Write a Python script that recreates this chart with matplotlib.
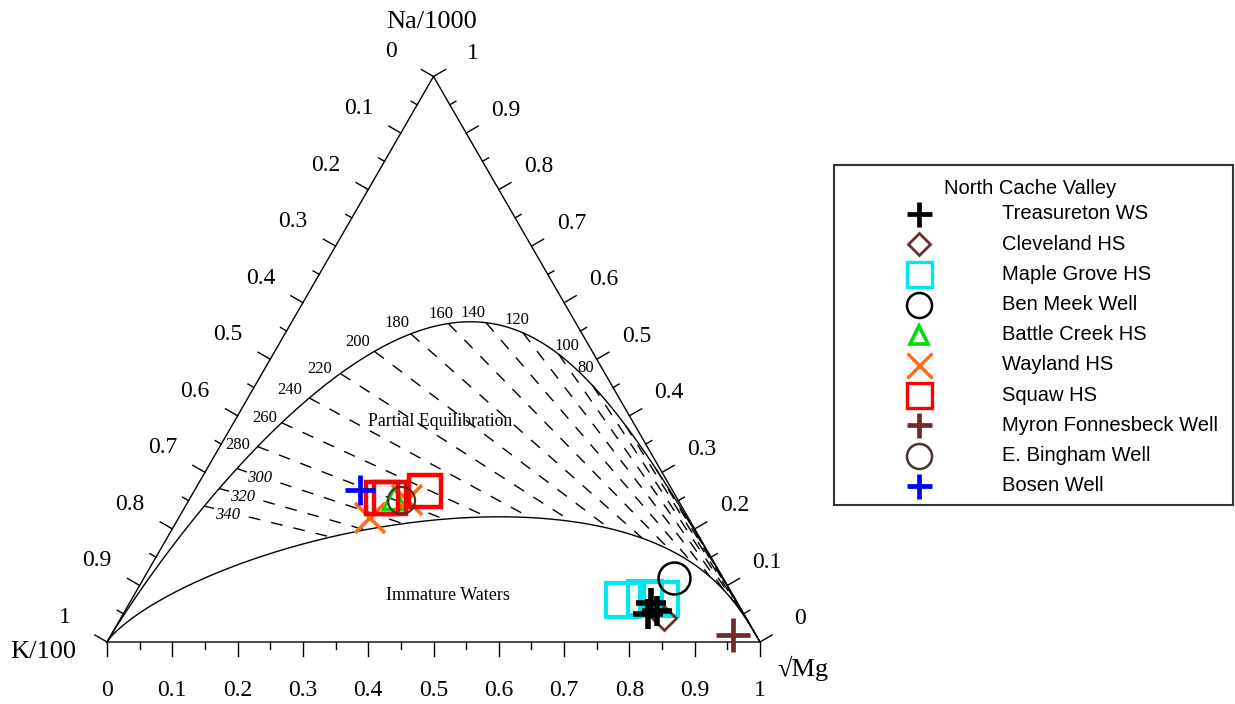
import numpy as np
import matplotlib
matplotlib.use("Agg")
import matplotlib.pyplot as plt
from matplotlib.patches import Rectangle

plt.rcParams['lines.scale_dashes'] = False

# ---------------- data (ternary fractions Na/1000, K/100, sqrt(Mg)) ----------------
treas_na = [0.069, 0.055, 0.050]
treas_k = [0.132, 0.130, 0.147]
treas_mg = [0.799, 0.815, 0.803]

clev_na = [0.042]
clev_k = [0.126]
clev_mg = [0.832]

maple_na = [0.074, 0.078, 0.076]
maple_k = [0.173, 0.137, 0.114]
maple_mg = [0.753, 0.785, 0.810]

benmeek_na = [0.113]
benmeek_k = [0.075]
benmeek_mg = [0.812]

battle_na = [0.255]
battle_k = [0.433]
battle_mg = [0.312]

wayland_na = [0.220, 0.251]
wayland_k = [0.488, 0.415]
wayland_mg = [0.292, 0.334]

squaw_na = [0.255, 0.255, 0.267]
squaw_k = [0.452, 0.439, 0.380]
squaw_mg = [0.293, 0.306, 0.353]

myron_na = [0.012]
myron_k = [0.035]
myron_mg = [0.953]

bingham_na = [0.251]
bingham_k = [0.424]
bingham_mg = [0.325]

bosen_na = [0.269]
bosen_k = [0.478]
bosen_mg = [0.253]

site_names = ["Treasureton WS", "Cleveland HS", "Maple Grove HS", "Ben Meek Well",
              "Battle Creek HS", "Wayland HS", "Squaw HS", "Myron Fonnesbeck Well",
              "E. Bingham Well", "Bosen Well"]
legend_title = "North Cache Valley"

temp_labels = [80, 100, 120, 140, 160, 180, 200, 220, 240, 260, 280, 300, 320, 340]
temp_lines = list(range(0, 341, 20))
tick_values = [0.0, 0.1, 0.2, 0.3, 0.4, 0.5, 0.6, 0.7, 0.8, 0.9, 1.0]

# Giggenbach (1988) geothermometer constants
KN_A, KN_B = 1390.0, 1.75      # Na/K
KM_A, KM_B = 4410.0, 14.0      # K2/Mg
NA_REF = 1000.0                # mg/kg Na for the equilibrium curve
MI_IMMATURE = 2.0              # maturity index of the immature boundary

S3 = np.sqrt(3) / 2


def tern_xy(na, k, mg):
    na, k, mg = (np.asarray(v, dtype=float) for v in (na, k, mg))
    s = na + k + mg
    na, mg = na / s, mg / s
    return mg + na / 2, na * S3


def full_eq(tk):
    kk = NA_REF / 10 ** (KN_A / tk - KN_B)
    mg = kk ** 2 / 10 ** (KM_B - KM_A / tk)
    return tern_xy(NA_REF / 1000, kk / 100, np.sqrt(mg))


def immature(tk):
    kk = NA_REF / 10 ** (KN_A / tk - KN_B)
    mg = kk ** 2 / 10 ** ((MI_IMMATURE + KN_B - KN_A / tk) / 0.315)
    return tern_xy(NA_REF / 1000, kk / 100, np.sqrt(mg))


# ---------------- figure / layout ----------------
W, H = 1235, 704
X0, Y0, SIDE = 107, 642, 653          # pixel position of K vertex and side length

fig = plt.figure(figsize=(W / 100, H / 100), dpi=100)
ax = fig.add_axes([0, 0, 1, 1])
ax.set_xlim(-X0 / SIDE, (W - X0) / SIDE)
ax.set_ylim((Y0 - H) / SIDE, Y0 / SIDE)
ax.axis('off')


def px(x, y):
    return (x - X0) / SIDE, (Y0 - y) / SIDE


def dpx(d):
    return d / SIDE


SERIF = ['Liberation Serif', 'DejaVu Serif']
SANS = ['Liberation Sans', 'DejaVu Sans']
LW = 1.0

# triangle
ax.plot([0, 1, 0.5, 0], [0, 0, S3, 0], color='black', lw=LW, zorder=3,
        solid_joinstyle='miter')

# ticks
for i in range(21):
    v = i / 20
    major = i % 2 == 0
    L = dpx(14 if major else 7)
    ax.plot([v, v], [0, -L], color='black', lw=LW, zorder=3)
    bx, by = 0.5 - 0.5 * v, S3 * (1 - v)
    ax.plot([bx, bx - S3 * L], [by, by + 0.5 * L], color='black', lw=LW, zorder=3)
    cx, cy = 1 - 0.5 * v, S3 * v
    ax.plot([cx, cx + S3 * L], [cy, cy + 0.5 * L], color='black', lw=LW, zorder=3)


def fmt(v):
    if v == 0:
        return '0'
    if v == 1:
        return '1'
    return f'{v:.1f}'


TFS = 17
for v in tick_values:
    ax.text(v, dpx(-48), fmt(v), ha='center', va='center', fontsize=TFS, family=SERIF)
    bx, by = 0.5 - 0.5 * v, S3 * (1 - v)
    d = dpx(49)
    ax.text(bx - S3 * d, by + 0.5 * d, fmt(v), ha='center', va='center', fontsize=TFS, family=SERIF)
    cx, cy = 1 - 0.5 * v, S3 * v
    d = dpx(46)
    ax.text(cx + S3 * d, cy + 0.5 * d, fmt(v), ha='center', va='center', fontsize=TFS, family=SERIF)

ax.text(*px(432, 22), 'Na/1000', ha='center', va='center', fontsize=19, family=SERIF)
ax.text(*px(43, 652), 'K/100', ha='center', va='center', fontsize=19, family=SERIF)
ax.text(*px(803, 668), '√Mg', ha='center', va='center', fontsize=19, family=SERIF)

# curves
tk = np.geomspace(150, 6000, 1500)
fx, fy = full_eq(tk)
ix, iy = immature(tk)
ax.plot(np.r_[1, fx, 0], np.r_[0, fy, 0], color='black', lw=LW, zorder=2)
ax.plot(np.r_[1, ix, 0], np.r_[0, iy, 0], color='black', lw=LW, zorder=2)

# partial equilibration lines
for t in temp_lines:
    p = full_eq(t + 273.15)
    q = immature(t + 273.15)
    ax.plot([p[0], q[0]], [p[1], q[1]], color='black', lw=1.0,
            dashes=(8.5, 8.0), zorder=2)

label_off = {80: (-7, -18), 100: (8, -8), 120: (-6, -13), 140: (-13, -10),
             160: (-7, -10), 180: (-14, -11), 200: (-17, -9), 220: (-21, -5),
             240: (-20, -8), 260: (-17, -5), 280: (-20, -2),
             300: (23, 9), 320: (23, 9), 340: (23, 9)}
for t in temp_labels:
    p = full_eq(t + 273.15)
    ox, oy = label_off[t]
    kw = {}
    if t >= 300:
        kw['bbox'] = dict(facecolor='white', edgecolor='none', pad=0.5)
    ax.text(p[0] + dpx(ox), p[1] - dpx(oy), str(t), ha='center', va='center',
            fontsize=12, family=SERIF, style='italic' if t >= 300 else 'normal',
            zorder=4, **kw)

ax.text(*px(440, 421), 'Partial Equilibration', ha='center', va='center',
        fontsize=12.8, family=SERIF, zorder=4)
ax.text(*px(448, 596), 'Immature Waters', ha='center', va='center',
        fontsize=13, family=SERIF, zorder=4)

# ---------------- samples ----------------
styles = [
    dict(marker='+', color='black', ms=22, mew=4.0, mfc='none'),          # Treasureton
    dict(marker='D', color='#6b2e2e', ms=12, mew=2.0, mfc='none'),        # Cleveland
    dict(marker='s', color='#00e8ee', ms=24, mew=3.0, mfc='none'),        # Maple Grove
    dict(marker='o', color='black', ms=23, mew=1.8, mfc='none'),          # Ben Meek
    dict(marker='^', color='#00dd00', ms=16, mew=2.5, mfc='none'),        # Battle Creek
    dict(marker='x', color='#ff6a13', ms=21, mew=2.6, mfc='none'),        # Wayland
    dict(marker='s', color='#ff0000', ms=23, mew=3.2, mfc='none'),        # Squaw
    dict(marker='+', color='#6e2c2c', ms=25, mew=3.4, mfc='none'),        # Myron
    dict(marker='o', color='#4d3030', ms=19.5, mew=1.6, mfc='none'),      # E. Bingham
    dict(marker='+', color='#0000ff', ms=21, mew=3.4, mfc='none'),        # Bosen
]
series = [
    (treas_na, treas_k, treas_mg),
    (clev_na, clev_k, clev_mg),
    (maple_na, maple_k, maple_mg),
    (benmeek_na, benmeek_k, benmeek_mg),
    (battle_na, battle_k, battle_mg),
    (wayland_na, wayland_k, wayland_mg),
    (squaw_na, squaw_k, squaw_mg),
    (myron_na, myron_k, myron_mg),
    (bingham_na, bingham_k, bingham_mg),
    (bosen_na, bosen_k, bosen_mg),
]
zorders = [9, 7, 6, 8, 6, 6.5, 7, 8, 9, 10]
for (na, k, mg), st, z in zip(series, styles, zorders):
    x, y = tern_xy(na, k, mg)
    ax.plot(x, y, ls='none', zorder=z, **st)

# ---------------- legend ----------------
lx0, ly0 = px(834, 505)
lx1, ly1 = px(1233, 165)
ax.add_patch(Rectangle((lx0, ly0), lx1 - lx0, ly1 - ly0, facecolor='white',
                       edgecolor='#333333', lw=1.5, zorder=5))
ax.text(*px(944, 188), legend_title, ha='left', va='center', fontsize=14.5,
        family=SANS, zorder=6)
leg_sizes = [18, 11.5, 18, 18, 13, 18, 18, 18, 18, 18]
leg_mew = [3.4, 2.0, 2.4, 1.8, 2.6, 2.4, 2.4, 3.4, 1.8, 3.4]
for i, (name, st) in enumerate(zip(site_names, styles)):
    yy = 214 + i * 30.2
    s = dict(st)
    s['ms'] = leg_sizes[i]
    s['mew'] = leg_mew[i]
    ax.plot(*px(919, yy), ls='none', zorder=6, **s)
    ax.text(*px(1002, yy), name, ha='left', va='center', fontsize=14.5,
            family=SANS, zorder=6)

fig.savefig('out.png', dpi=100)
